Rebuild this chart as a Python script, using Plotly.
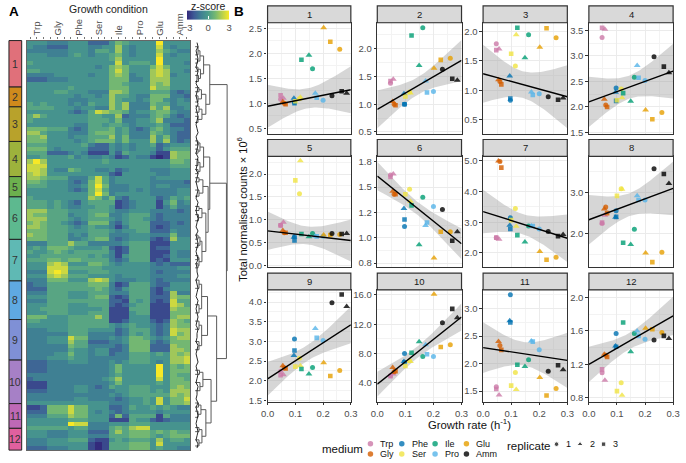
import numpy as np
import plotly.graph_objects as go

W, H = 686, 463
FONT = "Liberation Sans"
GRAY = "#4D4D4D"

# ---------- panel A data ----------
MEDIA = ["Trp", "Gly", "Phe", "Ser", "Ile", "Pro", "Glu", "Amm"]
COLORS = ["#CC79A7", "#D55E00", "#0072B2", "#F0E442", "#009E73", "#56B4E9", "#E69F00", "#000000"]
# each row: 3 replicates per medium, level 0..9 (0 = z -3, 9 = z +3)
HEAT_ROWS = [
"444 333 444 222 465 444 494 444","433 222 444 334 474 344 484 344","333 333 444 355 474 344 475 433",
"444 333 454 344 564 344 484 344","444 444 444 444 574 444 494 444","544 444 444 444 484 555 494 443",
"444 444 444 434 676 444 686 444","554 444 444 444 686 444 787 443","333 344 444 344 676 344 787 344",
"222 333 444 444 666 334 777 444","444 444 444 444 665 444 767 444","444 444 544 444 666 444 866 444",
"444 455 444 333 776 444 555 323","444 444 434 434 755 433 666 332","444 444 333 444 754 434 664 343",
"545 444 343 544 757 333 655 344","555 544 434 433 757 333 757 334","444 444 323 587 665 344 566 433",
"575 444 444 554 472 333 565 323","544 444 444 555 463 344 573 332","444 444 433 554 554 344 454 222",
"666 555 323 555 645 323 564 332","775 444 333 566 645 333 654 322","667 444 344 555 746 333 746 322",
"666 444 434 566 646 444 747 323","555 444 445 322 434 344 523 444","666 434 444 222 434 344 424 555",
"555 222 343 111 425 444 311 766","445 444 534 334 312 433 101 766","797 444 444 445 444 444 444 665",
"888 444 444 444 444 444 444 555","887 433 654 433 423 444 333 444","787 444 444 444 214 444 433 444",
"776 555 333 585 344 444 344 444","665 444 323 685 344 444 333 332","555 444 334 696 333 444 344 333",
"444 444 323 685 333 434 333 344","444 444 444 696 344 444 333 344","544 444 444 764 632 444 423 545",
"555 454 324 555 512 344 414 634","555 454 334 455 412 344 413 533",
"777 555 444 555 433 444 333 323","766 555 344 566 334 555 323 333","777 555 434 555 434 554 323 333",
"676 554 323 666 324 555 222 323","776 555 434 544 313 555 212 333","666 555 444 555 434 455 222 433",
"766 555 343 555 333 444 333 633","666 555 334 566 323 444 212 744",
"333 555 755 333 334 555 111 444","454 666 544 445 212 555 122 444","544 565 455 555 312 555 111 433",
"445 555 555 454 314 555 112 433","555 665 665 555 323 555 121 444",
"444 787 444 665 434 444 323 222","444 888 555 554 444 444 333 344","333 898 444 555 444 444 323 333",
"444 787 555 444 434 444 333 344",
"333 666 444 787 433 344 323 333","233 555 555 666 312 555 322 444","222 555 555 565 324 555 213 444",
"333 555 444 555 333 555 212 733","444 555 444 566 212 555 222 766","333 555 555 555 221 545 212 855",
"444 555 444 555 212 455 111 875","445 555 444 445 111 555 111 766","444 555 444 555 111 455 111 666",
"666 444 555 575 111 444 111 677","554 444 555 555 112 444 212 765","444 444 555 555 434 544 323 766",
"333 444 555 444 423 555 323 877","333 333 555 333 323 545 323 867","333 444 866 333 434 665 434 677",
"333 444 755 222 334 666 323 666","333 333 655 333 323 666 222 766","333 333 544 344 223 666 222 776",
"333 344 644 344 233 555 454 767","333 444 544 333 333 555 444 778","222 333 444 333 434 555 434 778",
"222 333 333 333 464 444 494 656","222 333 333 333 464 444 494 666","333 333 333 333 454 444 494 655",
"233 333 333 334 574 444 484 665","111 333 333 333 464 444 454 666","111 333 344 323 544 555 444 676",
"222 333 344 333 344 555 454 777","333 333 333 333 434 555 555 767","333 333 344 333 323 445 484 668",
"444 444 444 444 333 445 484 667","112 666 866 444 223 544 545 433","222 666 866 434 323 444 434 444",
"333 555 766 444 262 555 515 333","444 444 555 444 111 544 212 333","444 444 988 333 444 555 444 444",
"555 555 455 333 565 788 444 444","444 333 444 222 575 666 565 655","444 333 444 333 555 666 545 666",
"333 444 555 211 454 555 474 554","333 444 444 101 555 666 484 444","222 333 444 101 555 666 454 433",
]
CLUSTER_IDS = list(range(1, 13))
CLUSTER_COLORS = ["#E0707A", "#CF8A1C", "#B8A22B", "#9DB23C", "#6CB04E", "#5DB98F",
                  "#5FB9B4", "#5FA9E2", "#7F90D6", "#A680C6", "#BE69B6", "#E0609F"]
CLUSTER_EDGES = [40, 87, 107, 142, 177.5, 198, 241, 283, 322, 363, 407, 432, 454]

# dendrogram: [merge height, child, child]; a leaf is a heatmap row number
TREE = [32.7,
    [15, [8.7, [5, [3, 1, 3], [2.5, 4, 5]], [5.5, [3, 6, 7], [3.5, 8, 9.5]]],
         [11, [6.5, [4, 11, 12], [3, 13, 14.5]], [7, [4, 15.5, 17], [3, 18, 19.5]]]],
    [32,
        [15, [8.7, [5, [3, 24, 25], [3, 26, 27]], [5, [3, 28.5, 30], [3, 31, 32]]],
             [13.3, [8, [4, 33, 34], [4, 36, 37.5]],
                    [11, [7, [4, 40, 41], [3.5, 42, 43.5]],
                         [7, [5, [3, 47, 48], [3, 49, 50]], [4, [3, 52, 53], [3, 54, 55]]]]]],
        [22, [12.7, [6.7, [4, 58, 60], [4, 64, 66]], [6.7, [4, 68, 70], [4, 73, 75]]],
             [16.3, [8, [4.5, 80, 81], [5, 83, 85]],
                    [11, [6, [3.5, 88, 89], [3, 90, 91.5]], [7, [4, 94, 95], [4, 97, 98.5]]]]]]]
LEAF_H = [2, 3, 1, 2, 3, 2, 1, 3, 2, 2, 1, 3, 2, 1, 2, 3, 1, 2, 3, 2, 1, 2, 3, 1, 2, 3, 2, 1, 3, 2, 2, 1, 3, 2,
          1, 2, 3, 2, 1, 3, 2, 1, 2, 3, 2, 1, 3, 1, 2, 3, 2, 1, 2, 3, 1, 2, 2, 3, 1, 2, 3, 2, 1, 3, 2, 1, 2, 3,
          2, 1, 3, 2, 2, 1, 3, 2, 1, 2, 3, 1, 2, 3, 2, 1, 3, 2, 2, 1, 3, 1, 2, 3, 2, 1, 2, 3, 2, 1, 3, 2]

# ---------- panel B data, order: medium x replicate (1, 2, 3) ----------
GROWTH = [.047, .057, .047, .060, .055, .065, .097, .095, .097, .115, .118, .100,
          .162, .149, .122, .200, .172, .177, .260, .202, .226, .232, .285, .267]
P1 = [1.08, 1.10, 1.16, 1.00, 1.03, .98, 1.02, 1.10, 1.00, 1.09, 1.12, 1.04,
      1.69, 1.96, 1.87, 1.06, 1.20, 1.11, 2.08, 2.51, 2.23, 1.15, 1.20, 1.24]
P2 = [1.38, 1.45, 1.42, 1.00, 1.05, .98, 1.00, 1.19, 1.00, 1.22, 1.20, 1.14,
      2.38, 1.70, 2.24, 1.23, 1.42, 1.21, 1.83, 1.65, 1.80, 1.63, 1.43, 1.46]
P3 = [1.79, 1.70, 1.68, 1.15, 1.18, 1.10, .83, 1.24, .86, 1.41, 1.94, 1.62,
      1.94, 1.55, 2.06, .94, .97, .92, 1.89, 1.73, 2.05, .89, .87, .84]
P4 = [3.36, 3.52, 3.55, 2.04, 2.15, 2.00, 2.37, 2.29, 2.12, 2.35, 2.18, 2.13,
      2.58, 2.11, 2.27, 2.52, 2.81, 2.57, 1.89, 1.94, 1.76, 2.98, 2.67, 2.79]
P5 = [.88, .95, .88, .72, .77, .72, .63, .62, .55, 1.57, 2.29, 1.86,
      .70, .63, .69, .64, .64, .64, .68, .67, .67, .70, .70, .69]
P6 = [1.62, 1.63, 1.60, 1.43, 1.46, 1.43, 1.11, 1.29, 1.18, 1.48, 1.36, 1.43,
      1.40, .93, 1.32, 1.31, 1.12, 1.15, 1.06, .80, 1.06, 1.28, 1.06, .97]
P7 = [2.50, 2.45, 2.50, 4.98, 5.00, 4.78, 3.15, 2.90, 2.78, 3.45, 2.87, 3.07,
      2.88, 2.36, 2.58, 2.78, 2.88, 2.88, 1.86, 2.05, 1.78, 2.70, 2.60, 2.55]
P8 = [2.25, 2.45, 2.27, 2.65, 2.60, 2.50, 2.56, 2.40, 2.41, 3.09, 3.08, 2.92,
      2.11, 1.74, 1.78, 2.82, 2.92, 2.82, 1.55, 1.53, 1.31, 3.58, 3.22, 3.45]
P9 = [2.24, 2.15, 2.14, 2.33, 2.38, 2.31, 3.06, 2.64, 2.77, 2.57, 2.38, 2.36,
      2.34, 2.17, 2.30, 3.02, 3.33, 3.09, 2.26, 2.46, 2.12, 3.98, 3.89, 4.19]
P10 = [5.0, 5.2, 4.9, 5.5, 6.1, 5.6, 8.0, 6.9, 6.8, 7.0, 6.9, 6.3,
       7.6, 9.6, 8.1, 7.6, 9.2, 7.9, 9.2, 16.1, 8.9, 12.2, 12.9, 14.1]
P11 = [1.58, 1.43, 1.54, 2.33, 2.40, 2.25, 3.25, 2.78, 2.75, 1.84, 1.53, 1.60,
       2.07, 1.95, 1.98, 2.25, 2.41, 2.40, 1.55, 1.75, 1.42, 1.86, 1.89, 1.97]
P12 = [1.10, 1.01, 1.14, 1.31, 1.32, 1.29, 1.57, 1.42, 1.41, .98, .83, .88,
       1.57, 1.35, 1.70, 1.50, 1.60, 1.54, 1.58, 1.63, 1.62, 1.49, 1.51, 1.54]
PANELS = [P1, P2, P3, P4, P5, P6, P7, P8, P9, P10, P11, P12]

# fitted (robust) line: value at x = 0, value at x = 0.3, band half-width at x = 0
FIT_AT_0 = [.94, .905, 1.28, 2.10, .76, 1.61, 3.35, 2.34, 2.05, 3.8, 2.29, 1.20]
FIT_AT_03 = [1.27, 1.79, .89, 2.70, .55, .94, 2.48, 3.10, 3.42, 13.0, 2.06, 1.78]
BAND_AT_0 = [.43, .34, .49, .49, .42, .14, .71, .60, .43, 1.7, .46, .21]

Y_RANGES = [(.395, 2.61), (.47, 2.47), (.267, 2.144), (1.48, 3.647), (-.03, 2.386), (.71, 1.805),
            (1.54, 5.15), (1.19, 3.88), (1.47, 4.31), (1.43, 16.7), (1.31, 3.34), (.755, 2.09)]
Y_TICKS = [[.5, 1, 1.5, 2, 2.5], [.5, 1, 1.5, 2], [.5, 1, 1.5, 2], [1.5, 2, 2.5, 3, 3.5],
           [0, .5, 1, 1.5, 2], [.75, 1, 1.25, 1.5, 1.75], [2, 3, 4, 5], [2, 3],
           [1.5, 2, 2.5, 3, 3.5, 4], [4, 8, 12, 16], [1.5, 2, 2.5, 3], [.8, 1.2, 1.6, 2]]
Y_LABELS = [["0.5", "1.0", "1.5", "2.0", "2.5"], ["0.5", "1.0", "1.5", "2.0"], ["0.5", "1.0", "1.5", "2.0"],
            ["1.5", "2.0", "2.5", "3.0", "3.5"], ["0.0", "0.5", "1.0", "1.5", "2.0"],
            ["0.8", "1.0", "1.2", "1.5", "1.8"], ["2.0", "3.0", "4.0", "5.0"], ["2.0", "3.0"],
            ["1.5", "2.0", "2.5", "3.0", "3.5", "4.0"], ["4.0", "8.0", "12.0", "16.0"],
            ["1.5", "2.0", "2.5", "3.0"], ["0.8", "1.2", "1.6", "2.0"]]
X_TICKS = [0, .1, .2, .3]
X_LABELS = ["0.0", "0.1", "0.2", "0.3"]

COL_PX = [(266, 351), (378, 464), (486, 572), (594, 680)]
ROW_PX = [(22, 134), (157, 269), (292, 405)]


def fx(x):
    return x / W


def fy(y):
    return 1 - y / H


def dom_x(a, b):
    return [fx(a), fx(b)]


def dom_y(top, bot):
    return [fy(bot), fy(top)]


fig = go.Figure()
layout = dict(width=W, height=H, margin=dict(l=0, r=0, t=0, b=0), paper_bgcolor="white",
              plot_bgcolor="rgba(0,0,0,0)", showlegend=False, font=dict(family=FONT, size=10, color=GRAY))
shapes, ann = [], []


def text(x, y, s, size=10, color=GRAY, xanchor="center", yanchor="middle", angle=0, bold=False):
    ann.append(dict(x=fx(x), y=fy(y), xref="paper", yref="paper", text=f"<b>{s}</b>" if bold else s,
                    showarrow=False, xanchor=xanchor, yanchor=yanchor, textangle=angle,
                    font=dict(family=FONT, size=size, color=color), borderpad=0, borderwidth=0))


# ---------- heatmap ----------
z = [[(int(c) - 4.5) / 1.5 for c in row.replace(" ", "")] for row in HEAT_ROWS]
n_rows = len(z)
SCALE = [[0, "#332A7C"], [.17, "#3E5A96"], [.33, "#3F7F93"], [.5, "#4A9C8B"],
         [.67, "#74B872"], [.83, "#B5CF4F"], [1, "#F7E827"]]
fig.add_trace(go.Heatmap(z=z, xaxis="x", yaxis="y", colorscale=SCALE, zmin=-3, zmax=3, hoverinfo="skip",
    colorbar=dict(orientation="h", x=fx(184), xanchor="left", y=fy(36), yanchor="bottom", yref="paper",
                  lenmode="pixels", len=42, thicknessmode="pixels", thickness=9, outlinewidth=0,
                  tickvals=[-3, 0, 3], ticks="inside", tickcolor="white", ticklen=3, tickwidth=.7,
                  tickfont=dict(size=9.5, color=GRAY, family=FONT), xpad=0, ypad=0)))
layout["xaxis"] = dict(domain=dom_x(20, 187), range=[-.5, 23.5], side="top", tickvals=list(range(24)),
                       showticklabels=False, ticks="outside", ticklen=2.5, tickcolor="#777", tickwidth=.8,
                       showgrid=False, zeroline=False, showline=True, mirror=True, linecolor="#666",
                       linewidth=1.3, anchor="y", fixedrange=True)
layout["yaxis"] = dict(domain=dom_y(40, 454), range=[n_rows - .5, -.5], showticklabels=False, ticks="",
                       showgrid=False, zeroline=False, showline=True, mirror=True, linecolor="#666",
                       linewidth=1.3, anchor="x", fixedrange=True)
for i, m in enumerate(MEDIA):
    text(20 + 167 * (3 * i + 1.5) / 24, 35, m, size=9.5, color=GRAY, yanchor="bottom", angle=-90)
text(104, 8, "Growth condition", size=10.5, color="#222")
text(206, 5.5, "z-score", size=10.5, color="#222")
text(2, 10.5, "A", size=13.5, color="black", xanchor="left", bold=True)
text(232, 10.5, "B", size=13.5, color="black", xanchor="left", bold=True)

for i, cid in enumerate(CLUSTER_IDS):
    a, b = CLUSTER_EDGES[i], CLUSTER_EDGES[i + 1]
    shapes.append(dict(type="rect", xref="paper", yref="paper", x0=fx(2), x1=fx(15), y0=fy(b), y1=fy(a),
                       fillcolor=CLUSTER_COLORS[i], line=dict(color="#222", width=1)))
    text(8.5, (a + b) / 2, str(cid), size=10.5, color="#333")

# ---------- dendrogram ----------
seg_x, seg_y = [], []


def walk(node):
    if not isinstance(node, list):
        return node, 0
    h, left, right = node
    y_l, h_l = walk(left)
    y_r, h_r = walk(right)
    seg_x.extend([h_l, h, h, h_r, None])
    seg_y.extend([y_l, y_l, y_r, y_r, None])
    return (y_l + y_r) / 2, h


walk(TREE)
fig.add_trace(go.Scatter(x=seg_x, y=seg_y, mode="lines", xaxis="x2", yaxis="y2", hoverinfo="skip",
                         line=dict(color="#5a5a5a", width=1)))
fig.add_trace(go.Scatter(x=LEAF_H, y=list(range(len(LEAF_H))), mode="lines", xaxis="x2", yaxis="y2",
                         hoverinfo="skip", line=dict(color="#111", width=.9)))
layout["xaxis2"] = dict(domain=dom_x(192, 229), range=[0, 37], visible=False, anchor="y2", fixedrange=True)
layout["yaxis2"] = dict(domain=dom_y(40, 454), range=[n_rows - .5, -.5], visible=False, anchor="x2", fixedrange=True)

# ---------- scatter panels ----------
gx = np.array(GROWTH)
xbar, sxx, n_pts = gx.mean(), ((gx - gx.mean()) ** 2).sum(), len(gx)
xfit = np.linspace(0, .3, 61)
band_shape = np.sqrt(1 / n_pts + (xfit - xbar) ** 2 / sxx) / np.sqrt(1 / n_pts + xbar ** 2 / sxx)
marker_syms = ["circle", "triangle-up", "square"]
marker_sizes = [5, 6, 4.6]
for p, vals in enumerate(PANELS):
    ax = p + 3
    r, c = p // 4, p % 4
    xa, ya = f"x{ax}", f"y{ax}"
    fit = FIT_AT_0[p] + (FIT_AT_03[p] - FIT_AT_0[p]) * xfit / .3
    half = BAND_AT_0[p] * band_shape
    fig.add_trace(go.Scatter(x=np.r_[xfit, xfit[::-1]], y=np.r_[fit + half, (fit - half)[::-1]], mode="lines",
                             fill="toself", fillcolor="rgba(153,153,153,0.4)", line=dict(width=0),
                             xaxis=xa, yaxis=ya, hoverinfo="skip"))
    fig.add_trace(go.Scatter(
        x=GROWTH, y=vals, mode="markers", xaxis=xa, yaxis=ya, hoverinfo="skip",
        marker=dict(color=[COLORS[i // 3] for i in range(24)],
                    symbol=[marker_syms[i % 3] for i in range(24)],
                    size=[marker_sizes[i % 3] for i in range(24)], opacity=.8, line=dict(width=0))))
    fig.add_trace(go.Scatter(x=xfit, y=fit, mode="lines", line=dict(color="black", width=1.4),
                             xaxis=xa, yaxis=ya, hoverinfo="skip"))
    ticks = Y_TICKS[p]
    step = ticks[1] - ticks[0]
    minor_y = [ticks[0] - step / 2] + [t + step / 2 for t in ticks]
    layout[f"xaxis{ax}"] = dict(
        domain=dom_x(*COL_PX[c]), range=[0, .3], anchor=ya, tickvals=X_TICKS, ticktext=X_LABELS,
        showticklabels=r == 2, ticks="outside" if r == 2 else "", ticklen=2.5, tickcolor="#333", tickwidth=.8,
        tickfont=dict(size=9.5, color=GRAY, family=FONT), gridcolor="#EBEBEB", gridwidth=.9, zeroline=False,
        minor=dict(tickvals=[.05, .15, .25], showgrid=True, gridcolor="#F3F3F3", gridwidth=.5, ticks=""),
        showline=True, mirror=True, linecolor="#333", linewidth=1.2, fixedrange=True)
    layout[f"yaxis{ax}"] = dict(
        domain=dom_y(*ROW_PX[r]), range=list(Y_RANGES[p]), anchor=xa, tickvals=ticks, ticktext=Y_LABELS[p],
        ticks="outside", ticklen=2.5, tickcolor="#333", tickwidth=.8,
        tickfont=dict(size=9.5, color=GRAY, family=FONT), gridcolor="#EBEBEB", gridwidth=.9, zeroline=False,
        minor=dict(tickvals=minor_y, showgrid=True, gridcolor="#F3F3F3", gridwidth=.5, ticks=""),
        showline=True, mirror=True, linecolor="#333", linewidth=1.2, fixedrange=True)
    x0, x1 = COL_PX[c]
    top = ROW_PX[r][0]
    shapes.append(dict(type="rect", xref="paper", yref="paper", x0=fx(x0), x1=fx(x1), y0=fy(top), y1=fy(top - 17),
                       fillcolor="#D9D9D9", line=dict(color="#333", width=1.2)))
    text((x0 + x1) / 2, top - 8.5, str(p + 1), size=9.5, color="#1A1A1A")

text(240, 211, "Total normalised counts × 10<sup>6</sup>", size=11, color="#111", angle=-90)
text(472.5, 428, "Growth rate (h<sup>-1</sup>)", size=11.3, color="#111")

# ---------- legend keys on a full-page overlay ----------
LEG_X = [371, 371, 403, 403, 437, 437, 469, 469]
LEG_Y = [447.5, 458] * 4
fig.add_trace(go.Scatter(x=LEG_X, y=LEG_Y, mode="markers", xaxis="x15", yaxis="y15", hoverinfo="skip",
                         marker=dict(color=COLORS, size=5.5, opacity=.8)))
fig.add_trace(go.Scatter(x=[561, 585, 609], y=[448, 448, 448], mode="markers", xaxis="x15", yaxis="y15",
                         hoverinfo="skip", marker=dict(color="black", symbol=marker_syms, size=[4.6, 5.5, 4.4])))
layout["xaxis15"] = dict(domain=[0, 1], range=[0, W], visible=False, anchor="y15", fixedrange=True)
layout["yaxis15"] = dict(domain=[0, 1], range=[H, 0], visible=False, anchor="x15", fixedrange=True)
text(322, 453, "medium", size=11.5, color="#111", xanchor="left")
for lx, ly, m in zip(LEG_X, LEG_Y, MEDIA):
    text(lx + 10, ly, m, size=9, color="#111", xanchor="left")
text(510, 450, "replicate", size=11.5, color="#111", xanchor="left")
for lx, s in zip([571, 595, 619], ["1", "2", "3"]):
    text(lx, 448, s, size=9, color="#111", xanchor="left")

layout["shapes"] = shapes
layout["annotations"] = ann
fig.update_layout(**layout)
fig.write_html("out.html", config={"displayModeBar": False},
               post_script="document.body.style.margin='0';document.body.style.overflow='hidden';")
